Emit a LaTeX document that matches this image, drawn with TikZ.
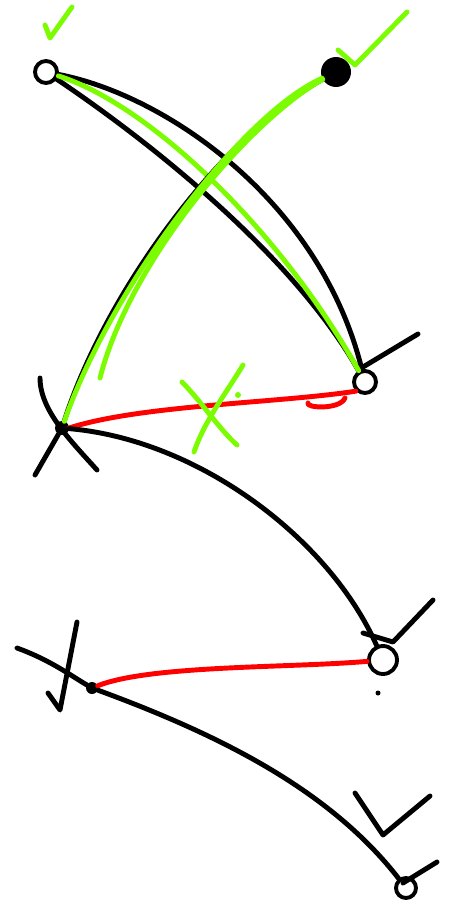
\documentclass[tikz,border=0pt]{standalone}
\usetikzlibrary{positioning}
\definecolor{okgreen}{HTML}{7CFC00}
\definecolor{badred}{HTML}{FF0000}
\begin{document}
\begin{tikzpicture}[
  x=0.05cm, y=-0.05cm,
  ink/.style={line width=7pt, line cap=round, line join=round},
  good/.style={ink, okgreen},
  bad/.style={ink, badred},
  knot/.style={draw, circle, line width=5.5pt, inner sep=0pt, minimum size=1.1cm},
  blob/.style={fill, circle, inner sep=0pt, minimum size=0.7cm}
]
  \useasboundingbox (0,0) rectangle (450,907);
  % junctions
  \node[knot] (a) at (46,72) {};
  \node[blob, minimum size=1.5cm] (b) at (336,72) {};
  \node[knot] (c) at (365,382) {};
  \node[blob] (d) at (62,428) {};
  \node[knot, minimum size=1.4cm] (e) at (383,660) {};
  \node[blob, minimum size=0.6cm] (f) at (92,688) {};
  \node[knot, minimum size=1cm] (g) at (406,888) {};
  \coordinate (dtail) at (35,475);
  \coordinate (ftail) at (17,648);
  \coordinate (gend) at (100,378);

  % crossing strokes
  \draw[ink] (a) .. controls (165,95) and (320,200) .. (c);
  \draw[ink] (a) .. controls (140,135) and (290,250) .. (c);
  \draw[good] (a) .. controls (150,105) and (280,230) .. (c);
  \draw[ink] (b) .. controls (230,130) and (110,280) .. (d);
  \draw[good] (b) .. controls (240,115) and (110,290) .. (d);
  \draw[good] (b) .. controls (250,120) and (130,260) .. (gend);
  \draw[ink] (d) -- (dtail);

  % lower strokes
  \draw[bad] (d.east) .. controls (140,405) and (280,403) .. (c.225);
  \draw[ink] (d) .. controls (200,440) and (330,540) .. (e);
  \draw[bad] (f) .. controls (150,665) and (290,668) .. (e);
  \draw[ink] (ftail) .. controls (50,660) and (70,675) .. (f)
    .. controls (220,735) and (330,790) .. (g);

  % marks
  \draw[good] (45,25) -- (50,38) -- (72,7);
  \draw[good] (338,50) -- (355,65) -- (407,12);
  \draw[ink] (363,367) -- (418,334);
  \draw[ink] (40,378) .. controls (40,410) and (70,440) .. (97,470);
  \draw[good] (182,382) .. controls (200,400) and (220,430) .. (237,445);
  \draw[good] (243,365) .. controls (225,395) and (205,420) .. (194,452);
  \fill[okgreen] (238,395) circle (3);
  \draw[bad] (345,398) .. controls (340,410) and (305,408) .. (308,403);
  \draw[ink] (363,633) -- (393,642) -- (433,600);
  \fill (378,693) circle (2.5);
  \draw[ink] (48,693) -- (60,710) -- (77,622);
  \draw[ink] (355,793) -- (383,835) -- (430,796);
  \draw[ink] (403,883) -- (437,862);
\end{tikzpicture}
\end{document}
